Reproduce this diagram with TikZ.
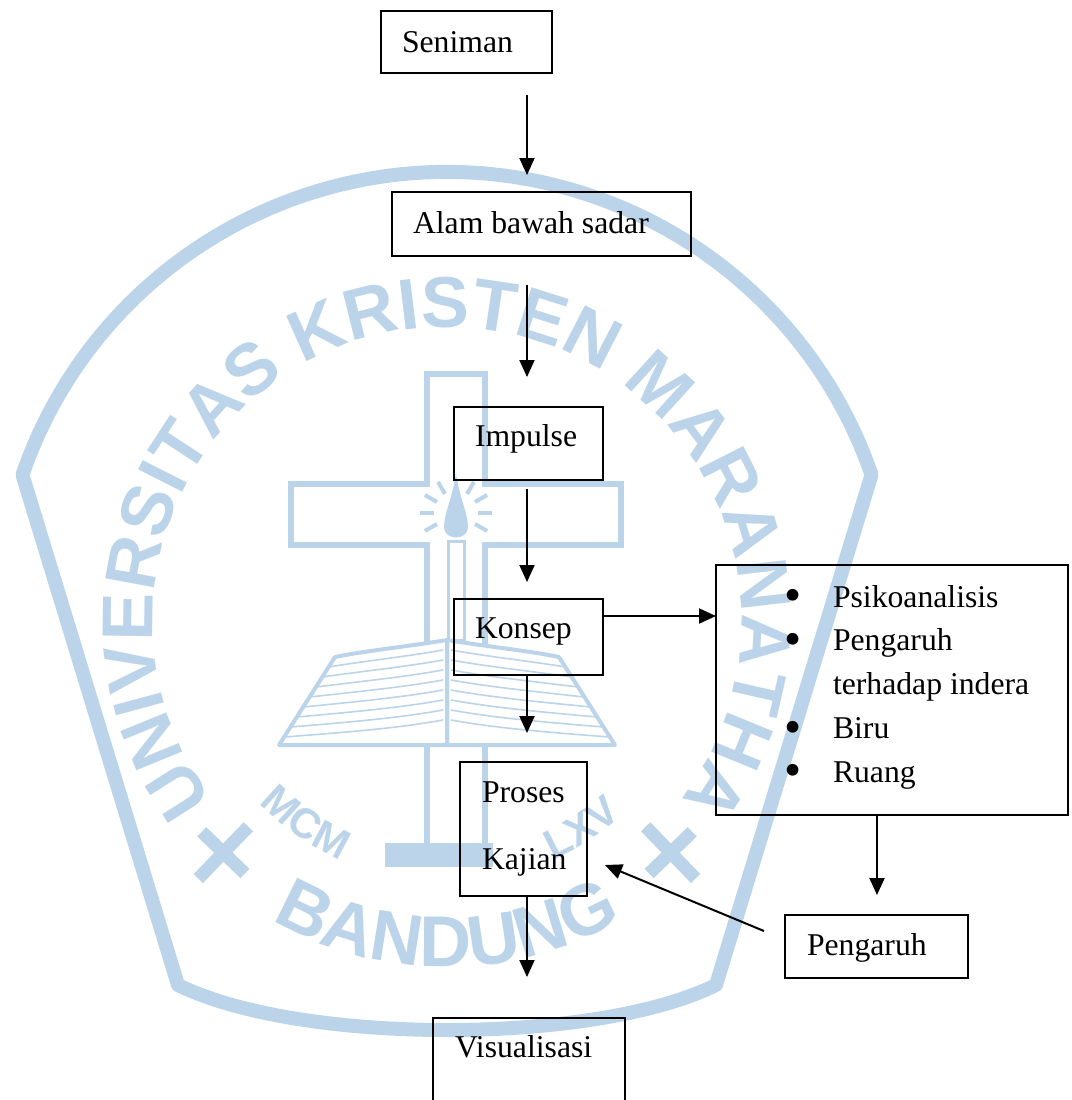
\documentclass[tikz,border=0pt]{standalone}
\usepackage{fontspec}
\setmainfont{Liberation Serif}
\newfontfamily\wmfont{Liberation Sans}
\usetikzlibrary{arrows.meta,decorations.text}
\definecolor{wm}{RGB}{188,212,233}
\newdimen\pxu
\pxu=0.5pt
\newcommand\mybox[5]{\parbox[t][#2\pxu][t]{#1\pxu}{\leftskip=#3\pxu\relax\rule{0pt}{#4\pxu}#5}}
\newcommand\bul{\llap{\raisebox{-2.4pt}{\fontsize{24.5pt}{24.5pt}\selectfont\textbullet}\hspace{31.5\pxu}}}
\newcommand\wmbig{\wmfont\bfseries\fontsize{36pt}{36pt}\selectfont}
\newcommand\wmsmall{\wmfont\bfseries\fontsize{21pt}{21pt}\selectfont}
\begin{document}
\begin{tikzpicture}[x=0.5pt,y=-0.5pt,
  bx/.style={draw, line width=0.9pt, inner sep=0pt, outer sep=0pt, anchor=north west,
    font=\fontsize{15.85pt}{21.9pt}\selectfont},
  arr/.style={line width=1pt, -{Triangle[length=8.5pt,width=7.5pt]}},
  band/.style={draw=wm, line width=7pt, line join=round},
  wmline/.style={draw=wm, line width=2.8pt, line join=miter},
  wmthin/.style={draw=wm, line width=0.8pt}]
\path[use as bounding box] (0,0) rectangle (1072,1100);
\clip (0,0) rectangle (1072,1100);
% ---------------- watermark (logo) ----------------
\begin{scope}[shift={(447,621)}, x=0.5pt, y=0.5pt]
  % shield band
  \draw[band] (161:449) arc[start angle=161, end angle=19, radius=449]
     -- (269,-364) .. controls (147,-424) and (-147,-424) .. (-269,-364) -- cycle;
  % circular texts
  \path[decorate, decoration={text along path, text color=wm, text align=center,
     text={|\wmbig|UNIVERSITAS KRISTEN MARANATHA}}]
     (225:294) arc[start angle=225, end angle=-45, radius=294];
  \path[decorate, decoration={text along path, text color=wm, text align=center,
     text={|\wmbig|BANDUNG}}]
     (215:346) arc[start angle=215, end angle=325, radius=346];
  \path[decorate, decoration={text along path, text color=wm, text align=center,
     text={|\wmsmall|MCM}}]
     (215:262) arc[start angle=215, end angle=255, radius=262];
  \path[decorate, decoration={text along path, text color=wm, text align=center,
     text={|\wmsmall|LXV}}]
     (283:262) arc[start angle=283, end angle=323, radius=262];
  % small crosses
  \foreach \a in {226,314}{
    \begin{scope}[shift={(\a:322)}, rotate=\a]
      \draw[wm, line width=6.5pt] (-36,0) -- (36,0) (0,-30) -- (0,30);
    \end{scope}
  }
  % central cross outline
  \draw[wmline] (-20,247) -- (38,247) -- (38,137) -- (174,137) -- (174,76) -- (38,76)
     -- (38,-229) -- (-20,-229) -- (-20,76) -- (-156,76) -- (-156,137) -- (-20,137) -- cycle;
  % candle and flame
  \draw[wm, line width=1.5pt] (1,-19) rectangle (17,80);
  \fill[wm] (9,148) .. controls (6,124) and (-3,108) .. (-3,94)
     .. controls (-3,80) and (21,80) .. (21,94) .. controls (21,108) and (12,124) .. (9,148);
  \foreach \r in {0,30,-30,60,180,150,210,120}{
    \draw[wm, line width=2pt] ([shift={(9,108)}]\r:22) -- ([shift={(9,108)}]\r:36);
  }
  % open book
  \fill[white] (0,-19) .. controls (-43,-26) and (-83,-30) .. (-112,-36) -- (-168,-124)
     -- (168,-124) -- (112,-36) .. controls (83,-30) and (43,-26) .. (0,-19) -- cycle;
  \draw[wm, line width=2pt, line join=round]
     (0,-19) .. controls (-43,-26) and (-83,-30) .. (-112,-36) -- (-168,-124) -- (0,-124) -- cycle;
  \draw[wm, line width=2pt, line join=round]
     (0,-19) .. controls (43,-26) and (83,-30) .. (112,-36) -- (168,-124) -- (0,-124) -- cycle;
  \foreach \i in {1,...,8}{
    \draw[wmthin] (-4,{-19-10*\i}) .. controls (-43,{-26-10*\i}) and (-83,{-30-10*\i}) .. ({-112-6.36*\i},{-36-10*\i});
    \draw[wmthin] (4,{-19-10*\i}) .. controls (43,{-26-10*\i}) and (83,{-30-10*\i}) .. ({112+6.36*\i},{-36-10*\i});
  }
  \fill[wm] (-62,-222) rectangle (46,-246);
\end{scope}
% ---------------- diagram ----------------
\node[bx] (seniman) at (381,11) {\mybox{171}{62}{21}{41}{Seniman}};
\node[bx] (alam) at (392,192) {\mybox{299}{64}{21}{41}{Alam bawah sadar}};
\node[bx] (impulse) at (454,407) {\mybox{149}{73}{21}{39}{Impulse}};
\node[bx] (konsep) at (454,599) {\mybox{149}{76}{21}{39}{Konsep}};
\node[bx] (list) at (716,565) {\mybox{352}{250}{117}{42}{\baselineskip=43.75\pxu\relax
   \bul Psikoanalisis\\\bul Pengaruh\\terhadap indera\\\bul Biru\\\bul Ruang}};
\node[bx] (proses) at (460,762) {\mybox{127}{134}{22}{40}{\baselineskip=67\pxu\relax Proses\\Kajian}};
\node[bx] (pengaruh) at (785,915) {\mybox{183}{63}{22}{40}{Pengaruh}};
\node[bx] (visual) at (433,1018) {\mybox{192}{100}{22}{39}{Visualisasi}};
% connectors
\coordinate (t1) at (527,95);  \coordinate (h1) at (527,175);
\coordinate (t2) at (527,285); \coordinate (h2) at (527,377);
\coordinate (t3) at (527,489); \coordinate (h3) at (527,582);
\coordinate (h4) at (527,733);
\coordinate (h5) at (527,977);
\coordinate (m6) at (650,616);
\coordinate (h7) at (877,895);
\coordinate (t8) at (764,931); \coordinate (h8) at (605,865);
\draw[arr] (t1) -- (h1);
\draw[arr] (t2) -- (h2);
\draw[arr] (t3) -- (h3);
\draw[arr] (konsep.south -| h4) -- (h4);
\draw[arr] (proses.south -| h5) -- (h5);
\draw[arr] (konsep.east |- m6) -- (list.west |- m6);
\draw[arr] (list.south -| h7) -- (h7);
\draw[arr] (t8) -- (h8);
\end{tikzpicture}
\end{document}
